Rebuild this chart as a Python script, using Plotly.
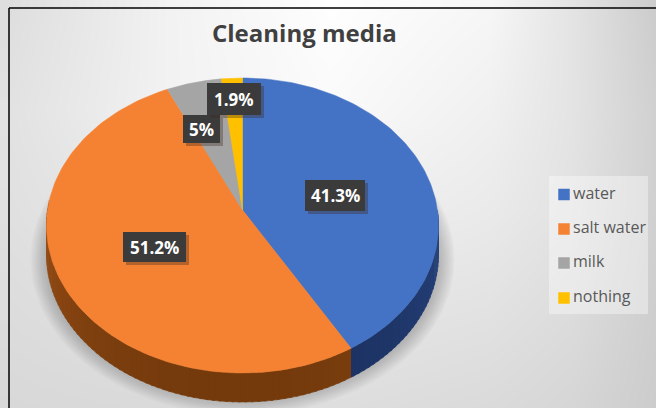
import numpy as np
import plotly.graph_objects as go

categories = ["water", "salt water", "milk", "nothing"]
shares = [41.3, 51.2, 5.0, 1.9]
share_labels = ["41.3%", "51.2%", "5%", "1.9%"]
face_colors = ["#4472C4", "#F58233", "#A5A5A5", "#FFC000"]
side_colors = ["#1B3060", "#743A0C", "#5F5F5F", "#8F6C00"]

W, H = 656, 408
CX, CY, RX, RY = 242.5, 225.5, 196.0, 147.5
DEPTH = 29.0
TILT = 0.105  # perspective shift of the pie's centre towards the far edge
LABEL_BOXES = [(305, 180, 365, 211), (123, 232, 186, 262), (183, 115, 220, 143), (207, 83, 261, 115)]
BG_X = [9, 170, 330, 490, 570, 656]
BG_Y = [9, 110, 210, 310, 408]
BG_Z = [
    [222, 242, 254, 246, 228, 204],
    [226, 242, 250, 240, 228, 208],
    [224, 234, 240, 234, 226, 208],
    [220, 226, 230, 226, 220, 206],
    [216, 218, 222, 218, 214, 204],
]


def rim(theta):
    """Screen position of a rim point; theta runs clockwise from twelve o'clock."""
    u, v = np.sin(theta), np.cos(theta)
    w = 1 + TILT * v
    return CX + RX * u * np.sqrt(1 - TILT**2) / w, CY - RY * (v + TILT) / w


def lerp_hex(a, b, t):
    ca = [int(a[i:i + 2], 16) for i in (1, 3, 5)]
    cb = [int(b[i:i + 2], 16) for i in (1, 3, 5)]
    return "rgb({},{},{})".format(*[round(p + (q - p) * t) for p, q in zip(ca, cb)])


fig = go.Figure()

fig.add_trace(go.Heatmap(
    x=BG_X, y=BG_Y, z=BG_Z, zmin=0, zmax=255, zsmooth="best",
    colorscale=[[0, "#000000"], [1, "#ffffff"]],
    showscale=False, hoverinfo="skip",
))

# soft drop shadow under the pie, built from stacked translucent ellipses
t = np.linspace(0, 2 * np.pi, 180)
for k in range(14):
    grow = 16 - 1.3 * k
    fig.add_trace(go.Scatter(
        x=CX + (RX + grow) * np.cos(t),
        y=CY + 34 + (RY - 8 + grow) * np.sin(t),
        mode="lines", line_width=0, fill="toself",
        fillcolor="rgba(90,90,90,0.03)", hoverinfo="skip", showlegend=False,
    ))

fractions = np.array(shares) / sum(shares)
edges = np.concatenate([[0], np.cumsum(fractions)]) * 2 * np.pi

# rim wall: only the part facing the viewer, shaded in short strips
for i, colour in enumerate(side_colors):
    lo, hi = edges[i], edges[i + 1]
    steps = np.arange(max(lo, np.pi / 2), min(hi, 3 * np.pi / 2) + 0.03, 0.03)
    for a0 in steps:
        a1 = min(a0 + 0.04, hi)
        if a0 >= a1:
            continue
        arc = np.linspace(a0, a1, 4)
        xs, ys = rim(arc)
        depth_light = abs(a0 - np.pi) / (np.pi / 2)
        fill = lerp_hex(colour, face_colors[i], 0.32 * depth_light**2)
        fig.add_trace(go.Scatter(
            x=np.r_[xs, xs[::-1]], y=np.r_[ys, ys[::-1] + DEPTH],
            mode="lines", line=dict(color=fill, width=0.6), fill="toself",
            fillcolor=fill, hoverinfo="skip", showlegend=False,
        ))

# top face of each slice
cx0, cy0 = CX, CY - RY * TILT
for i, name in enumerate(categories):
    arc = np.linspace(edges[i], edges[i + 1], 120)
    xs, ys = rim(arc)
    fig.add_trace(go.Scatter(
        x=np.r_[cx0, xs, cx0], y=np.r_[cy0, ys, cy0],
        mode="lines", line=dict(color=face_colors[i], width=0.5), fill="toself",
        fillcolor=face_colors[i], name=name, hoverinfo="name", showlegend=False,
    ))

# legend panel, swatches and names
fig.add_trace(go.Scatter(
    x=[549, 648, 648, 549, 549], y=[176, 176, 314, 314, 176],
    mode="lines", line_width=0, fill="toself",
    fillcolor="rgba(255,255,255,0.38)", hoverinfo="skip", showlegend=False,
))
LEGEND_Y = [194.5, 229, 263, 298]
fig.add_trace(go.Scatter(
    x=[564] * 4, y=LEGEND_Y, mode="markers",
    marker=dict(symbol="square", size=11.5, color=face_colors, line_width=0),
    hoverinfo="skip", showlegend=False,
))
fig.add_trace(go.Scatter(
    x=[573] * 4, y=LEGEND_Y, mode="text",
    text=categories, textposition="middle right",
    textfont=dict(family="Open Sans", size=16, color="#595959"),
    hoverinfo="skip", showlegend=False,
))

# value tags with a small offset shadow
for text, (x0, y0, x1, y1) in zip(share_labels, LABEL_BOXES):
    fig.add_shape(type="rect", x0=x0 + 3, x1=x1 + 3, y0=y0 + 3, y1=y1 + 3,
                  line_width=0, fillcolor="rgba(60,40,30,0.35)", layer="above")
    fig.add_shape(type="rect", x0=x0, x1=x1, y0=y0, y1=y1,
                  line_width=0, fillcolor="#3b3b3b", layer="above")
    fig.add_annotation(
        x=(x0 + x1) / 2, y=(y0 + y1) / 2, text=f"<b>{text}</b>", showarrow=False,
        font=dict(family="Open Sans", size=17, color="#ffffff"),
    )

# frame on the top and left edges
fig.add_shape(type="line", x0=9, x1=9, y0=8, y1=H, line=dict(color="#000000", width=1.5), layer="above")
fig.add_shape(type="line", x0=9, x1=W, y0=8, y1=8, line=dict(color="#000000", width=1.5), layer="above")

fig.add_annotation(
    x=304, y=32, text="<b>Cleaning media</b>", showarrow=False,
    font=dict(family="Open Sans", size=24, color="#404040"),
)

fig.update_layout(
    width=W, height=H, margin=dict(l=0, r=0, t=0, b=0),
    paper_bgcolor="#ffffff", plot_bgcolor="#ffffff", showlegend=False,
    xaxis=dict(range=[0, W], visible=False, fixedrange=True),
    yaxis=dict(range=[H, 0], visible=False, fixedrange=True),
)
fig.write_html("out.html", config={"displayModeBar": False})
